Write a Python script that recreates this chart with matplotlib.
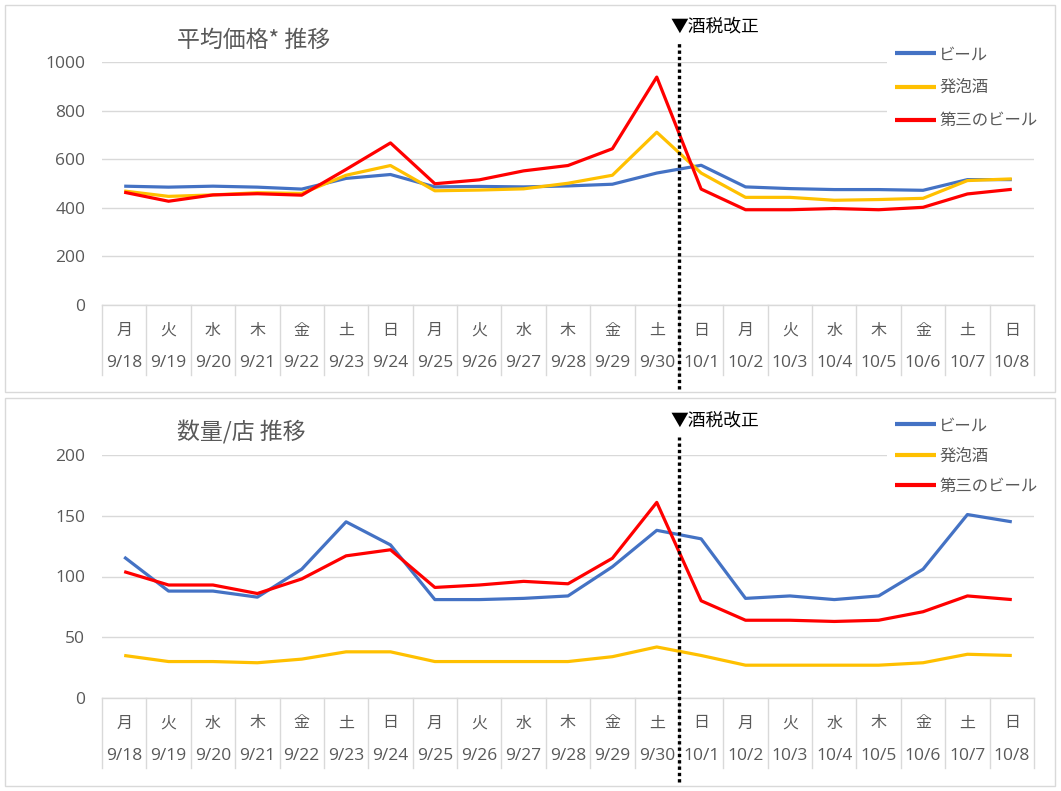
import matplotlib
matplotlib.use('Agg')
import matplotlib.pyplot as plt
from matplotlib.patches import Rectangle

plt.rcParams['font.family'] = ['Noto Sans CJK JP', 'DejaVu Sans']
NUMFONT = ['Open Sans', 'Noto Sans CJK JP']

# ---------------- data ----------------
days = ['月', '火', '水', '木', '金', '土', '日',
        '月', '火', '水', '木', '金', '土', '日',
        '月', '火', '水', '木', '金', '土', '日']
dates = ['9/18', '9/19', '9/20', '9/21', '9/22', '9/23', '9/24',
         '9/25', '9/26', '9/27', '9/28', '9/29', '9/30', '10/1',
         '10/2', '10/3', '10/4', '10/5', '10/6', '10/7', '10/8']
series_names = ['ビール', '発泡酒', '第三のビール']

price_beer = [489, 485, 489, 485, 477, 521, 537, 486, 488, 486, 490, 497, 543, 575,
              486, 479, 475, 475, 472, 516, 516]
price_happoshu = [469, 447, 453, 462, 459, 534, 574, 470, 473, 478, 501, 534, 711, 543,
                  443, 443, 431, 434, 439, 512, 519]
price_third = [464, 427, 453, 458, 452, 558, 667, 499, 515, 552, 574, 643, 938, 477,
               392, 392, 397, 392, 402, 457, 476]

qty_beer = [116, 88, 88, 83, 106, 145, 126, 81, 81, 82, 84, 108, 138, 131,
            82, 84, 81, 84, 106, 151, 145]
qty_happoshu = [35, 30, 30, 29, 32, 38, 38, 30, 30, 30, 30, 34, 42, 35,
                27, 27, 27, 27, 29, 36, 35]
qty_third = [104, 93, 93, 86, 98, 117, 122, 91, 93, 96, 94, 115, 161, 80,
             64, 64, 63, 64, 71, 84, 81]

titles = ['平均価格* 推移', '数量/店 推移']
annotation = '▼酒税改正'
event_after = '9/30'

colors = ['#4472C4', '#FFC000', '#FF0000']
TXT = '#595959'
GRID = '#d9d9d9'

W, H = 1061, 791
fig = plt.figure(figsize=(W / 100, H / 100), dpi=100)

# panel borders
for (y0, y1) in [(5, 392), (398, 786)]:
    fig.patches.append(Rectangle((5 / W, 1 - y1 / H), 1050 / W, (y1 - y0) / H,
                                 transform=fig.transFigure, fill=False,
                                 edgecolor=GRID, linewidth=1.0))

ax_left, ax_right = 102, 1034
axh = 243


def make_panel(zero_y, data, ymax, ystep, title, title_y, ann_y, leg_top, leg_spacing):
    ax = fig.add_axes([ax_left / W, 1 - zero_y / H, (ax_right - ax_left) / W, axh / H])
    x = list(range(len(dates)))
    for vals, name, c in zip(data, series_names, colors):
        ax.plot(x, vals, color=c, lw=2.3, label=name, solid_joinstyle='round',
                solid_capstyle='butt', zorder=3)
    ax.set_xlim(-0.5, len(dates) - 0.5)
    ax.set_ylim(0, ymax)
    ax.set_yticks(range(0, ymax + 1, ystep))
    ax.tick_params(axis='y', length=0, pad=12, labelsize=12.5, labelcolor=TXT)
    for lab in ax.get_yticklabels():
        lab.set_family(NUMFONT)
    ax.set_xticks([])
    for s in ['top', 'right', 'left']:
        ax.spines[s].set_visible(False)
    ax.spines['bottom'].set_color(GRID)
    ax.spines['bottom'].set_linewidth(1.0)
    ax.grid(axis='y', color=GRID, lw=1.0, zorder=0)
    ax.set_axisbelow(True)

    tr = ax.get_xaxis_transform()
    # category separators
    for i in range(len(dates) + 1):
        ax.plot([i - 0.5, i - 0.5], [0, -70 / axh], transform=tr, color=GRID,
                lw=1.0, clip_on=False)
    for i, (d, dt) in enumerate(zip(days, dates)):
        ax.text(i, -25 / axh, d, transform=tr, ha='center', va='center',
                fontsize=11.5, color=TXT)
        ax.text(i, -58 / axh, dt, transform=tr, ha='center', va='center',
                fontsize=12.5, color=TXT, family=NUMFONT)

    # event line
    ev = dates.index(event_after) + 0.5
    top_frac = (zero_y - (ann_y + 17)) / axh
    bot_frac = (zero_y - (zero_y + 84)) / axh
    ax.plot([ev, ev], [bot_frac, top_frac], transform=tr, color='black', lw=2.4,
            dashes=(1.0, 0.9), clip_on=False, zorder=5)
    ax.text(ev - 8 / 44.4, (zero_y - ann_y) / axh, annotation, transform=tr,
            ha='left', va='center', fontsize=12.8, color='black')

    # title
    fig.text(177 / W, 1 - title_y / H, title, ha='left', va='center',
             fontsize=16.5, color=TXT)

    leg = ax.legend(loc='upper left', bbox_to_anchor=(887 / W, 1 - leg_top / H),
                    bbox_transform=fig.transFigure, frameon=True, fancybox=False,
                    facecolor='white', edgecolor='none', framealpha=1,
                    fontsize=11.8, handlelength=2.5, handletextpad=0.2,
                    labelspacing=leg_spacing, borderpad=0.5, borderaxespad=0)
    for t in leg.get_texts():
        t.set_color(TXT)
    for l in leg.get_lines():
        l.set_linewidth(3.0)
    leg.set_zorder(4)
    return ax


make_panel(305, [price_beer, price_happoshu, price_third], 1000, 200,
           titles[0], 40, 26, 38, 0.98)
make_panel(698, [qty_beer, qty_happoshu, qty_third], 200, 50,
           titles[1], 432, 420, 409, 0.82)

fig.savefig('out.png', dpi=100)
